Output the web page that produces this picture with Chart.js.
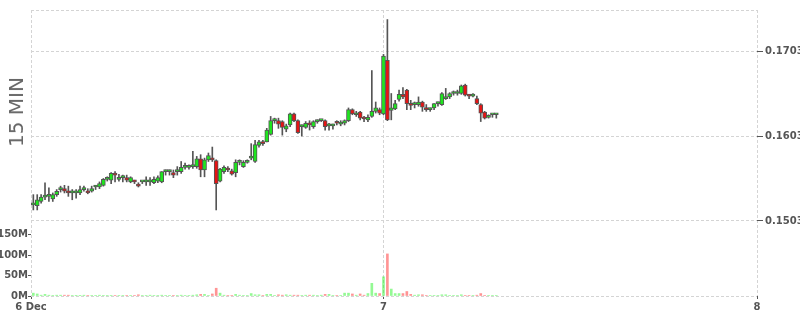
<!DOCTYPE html>
<html>
<head>
<meta charset="utf-8">
<script src="https://cdn.jsdelivr.net/npm/chart.js@4.4.1/dist/chart.umd.min.js"></script>
<style>
    html, body { margin: 0; padding: 0; background: #fff; }
    #wrap { position: relative; width: 800px; height: 315px; }
    #candle_Chart { display: block; }
    #side_label {
        position: absolute; left: 16px; top: 112px;
        transform: translate(-50%, -50%) rotate(-90deg);
        font: 20px "DejaVu Sans", sans-serif; color: #666; white-space: nowrap;
    }
</style>
</head>
<body>
<div id="wrap">
    <canvas id="candle_Chart" width="800" height="315"></canvas>
    <div id="side_label">15 MIN</div>
</div>
<script>
// 15분 봉 데이터 (6 Dec 01:30 부터)
const firstCandleHour = 1.5;
const candleStepHour = 0.25;

const openPrices = [
    0.1522, 0.1521, 0.1526, 0.1531, 0.1532, 0.1529, 0.1534, 0.1540, 0.1541, 0.1538,
    0.1536, 0.1536, 0.1536, 0.1540, 0.1538, 0.1538, 0.1543, 0.1543, 0.1545, 0.1552,
    0.1551, 0.1559, 0.1552, 0.1554, 0.1554, 0.1549, 0.1549, 0.1546, 0.1549, 0.1549,
    0.1549, 0.1548, 0.1550, 0.1549, 0.1561, 0.1561, 0.1560, 0.1561, 0.1561, 0.1566,
    0.1566, 0.1567, 0.1567, 0.1576, 0.1563, 0.1575, 0.1575, 0.1574, 0.1550, 0.1561,
    0.1563, 0.1562, 0.1560, 0.1572, 0.1567, 0.1572, 0.1577, 0.1573, 0.1592, 0.1596,
    0.1596, 0.1605, 0.1621, 0.1621, 0.1620, 0.1611, 0.1616, 0.1629, 0.1621, 0.1614,
    0.1613, 0.1618, 0.1614, 0.1620, 0.1621, 0.1621, 0.1615, 0.1615, 0.1619, 0.1617,
    0.1618, 0.1621, 0.1634, 0.1628, 0.1631, 0.1623, 0.1622, 0.1626, 0.1632, 0.1634,
    0.1629, 0.1692, 0.1633, 0.1635, 0.1646, 0.1652, 0.1657, 0.1641, 0.1640, 0.1640,
    0.1643, 0.1636, 0.1634, 0.1636, 0.1641, 0.1640, 0.1647, 0.1649, 0.1653, 0.1653,
    0.1653, 0.1663, 0.1650, 0.1650, 0.1647, 0.1640, 0.1631, 0.1625, 0.1628, 0.1628
];
const highPrices = [
    0.1534, 0.1534, 0.1534, 0.1548, 0.1542, 0.1536, 0.1540, 0.1544, 0.1545, 0.1544,
    0.1540, 0.1540, 0.1544, 0.1544, 0.1541, 0.1544, 0.1545, 0.1549, 0.1553, 0.1555,
    0.1560, 0.1561, 0.1558, 0.1557, 0.1557, 0.1555, 0.1551, 0.1548, 0.1550, 0.1555,
    0.1554, 0.1555, 0.1556, 0.1561, 0.1563, 0.1563, 0.1563, 0.1567, 0.1573, 0.1571,
    0.1569, 0.1585, 0.1579, 0.1581, 0.1577, 0.1583, 0.1590, 0.1575, 0.1565, 0.1568,
    0.1567, 0.1564, 0.1575, 0.1575, 0.1574, 0.1575, 0.1594, 0.1598, 0.1598, 0.1598,
    0.1612, 0.1626, 0.1624, 0.1624, 0.1621, 0.1617, 0.1630, 0.1630, 0.1622, 0.1616,
    0.1620, 0.1621, 0.1621, 0.1622, 0.1622, 0.1622, 0.1618, 0.1617, 0.1621, 0.1621,
    0.1622, 0.1636, 0.1635, 0.1632, 0.1632, 0.1626, 0.1628, 0.1680, 0.1643, 0.1636,
    0.1699, 0.1740, 0.1653, 0.1645, 0.1657, 0.1660, 0.1658, 0.1645, 0.1643, 0.1649,
    0.1644, 0.1640, 0.1636, 0.1641, 0.1643, 0.1654, 0.1659, 0.1654, 0.1656, 0.1657,
    0.1663, 0.1664, 0.1652, 0.1653, 0.1650, 0.1641, 0.1632, 0.1628, 0.1629, 0.1629
];
const lowPrices = [
    0.1516, 0.1516, 0.1524, 0.1528, 0.1526, 0.1526, 0.1532, 0.1537, 0.1536, 0.1532,
    0.1528, 0.1530, 0.1534, 0.1538, 0.1535, 0.1537, 0.1540, 0.1541, 0.1544, 0.1550,
    0.1547, 0.1549, 0.1550, 0.1549, 0.1549, 0.1548, 0.1547, 0.1543, 0.1547, 0.1545,
    0.1545, 0.1547, 0.1548, 0.1548, 0.1557, 0.1557, 0.1554, 0.1557, 0.1559, 0.1564,
    0.1564, 0.1565, 0.1565, 0.1555, 0.1555, 0.1573, 0.1573, 0.1516, 0.1549, 0.1559,
    0.1561, 0.1557, 0.1555, 0.1569, 0.1566, 0.1571, 0.1575, 0.1572, 0.1590, 0.1592,
    0.1596, 0.1604, 0.1618, 0.1612, 0.1604, 0.1608, 0.1614, 0.1620, 0.1606, 0.1603,
    0.1612, 0.1610, 0.1612, 0.1618, 0.1620, 0.1610, 0.1610, 0.1611, 0.1616, 0.1615,
    0.1616, 0.1620, 0.1628, 0.1626, 0.1622, 0.1620, 0.1620, 0.1625, 0.1630, 0.1628,
    0.1628, 0.1621, 0.1622, 0.1634, 0.1644, 0.1647, 0.1634, 0.1634, 0.1636, 0.1638,
    0.1632, 0.1632, 0.1632, 0.1634, 0.1638, 0.1639, 0.1646, 0.1647, 0.1651, 0.1651,
    0.1652, 0.1650, 0.1647, 0.1649, 0.1640, 0.1620, 0.1623, 0.1624, 0.1625, 0.1624
];
const closePrices = [
    0.1522, 0.1528, 0.1531, 0.1531, 0.1532, 0.1534, 0.1538, 0.1540, 0.1538, 0.1536,
    0.1536, 0.1536, 0.1540, 0.1540, 0.1536, 0.1541, 0.1543, 0.1547, 0.1552, 0.1552,
    0.1559, 0.1557, 0.1554, 0.1554, 0.1551, 0.1554, 0.1549, 0.1544, 0.1549, 0.1549,
    0.1549, 0.1552, 0.1554, 0.1561, 0.1561, 0.1561, 0.1557, 0.1561, 0.1566, 0.1566,
    0.1566, 0.1567, 0.1576, 0.1563, 0.1575, 0.1580, 0.1575, 0.1547, 0.1564, 0.1566,
    0.1563, 0.1558, 0.1572, 0.1572, 0.1572, 0.1572, 0.1577, 0.1593, 0.1596, 0.1594,
    0.1610, 0.1621, 0.1621, 0.1617, 0.1613, 0.1615, 0.1629, 0.1621, 0.1607, 0.1614,
    0.1618, 0.1616, 0.1620, 0.1620, 0.1621, 0.1614, 0.1615, 0.1615, 0.1618, 0.1619,
    0.1621, 0.1634, 0.1629, 0.1630, 0.1624, 0.1623, 0.1625, 0.1632, 0.1636, 0.1630,
    0.1697, 0.1622, 0.1636, 0.1641, 0.1652, 0.1649, 0.1641, 0.1639, 0.1640, 0.1643,
    0.1637, 0.1634, 0.1634, 0.1641, 0.1641, 0.1653, 0.1649, 0.1653, 0.1653, 0.1653,
    0.1662, 0.1651, 0.1650, 0.1652, 0.1641, 0.1630, 0.1624, 0.1626, 0.1628, 0.1628
];
// 거래량 (백만 단위)
const volumesM = [
    7, 5, 2, 4, 2, 1, 2, 2, 2, 2,
    1, 0.5, 0.5, 2, 1, 1, 1, 2, 1, 1,
    1, 1, 1, 1, 1, 1, 1, 3, 1, 1,
    2, 1, 1, 2, 1, 1, 1, 1, 2, 1,
    1, 2, 3, 4, 4, 1, 5, 19, 7, 2,
    1, 1, 4, 2, 1, 1, 6, 3, 3, 1,
    4, 4, 1, 3, 2, 3, 2, 2, 2, 1,
    2, 2, 2, 1, 2, 4, 4, 1, 1, 1,
    7, 7, 5, 2, 5, 2, 6, 31, 7, 6,
    47, 103, 17, 6, 6, 6, 11, 4, 2, 3,
    3, 1, 1, 1, 1, 3, 3, 1, 1, 1,
    3, 1, 1, 1, 2, 6, 1, 1, 1, 1
];

// 축 눈금
const priceTicks = [0.1503, 0.1603, 0.1703];
const volumeTicksM = [0, 50, 100, 150];
const dayTicks = [1.35, 24, 48];
const dayLabels = ['6 Dec', '7', '8'];

document.addEventListener('DOMContentLoaded', (event) => {
    const GREEN = '#1ee61e';
    const RED = '#e61414';
    const EDGE = '#555';
    const GRID = '#d4d4d4';

    const hours = openPrices.map((v, i) => firstCandleHour + i * candleStepHour);
    const isUp = (i) => {
        if (closePrices[i] !== openPrices[i]) return closePrices[i] > openPrices[i];
        return i === 0 || closePrices[i] >= closePrices[i - 1];
    };

    const wickData = hours.map((h, i) => ({ x: h, y: [lowPrices[i], highPrices[i]] }));
    const bodyData = hours.map((h, i) => ({ x: h, y: [openPrices[i], closePrices[i]] }));
    const volumeData = hours.map((h, i) => ({ x: h, y: volumesM[i] * 1e6 }));

    const priceMin = 0.141476;
    const priceMax = 0.175124;
    const labelFont = { family: 'DejaVu Sans', size: 10, weight: 'bold' };

    const ctx_candle = document.getElementById('candle_Chart').getContext('2d');
    new Chart(ctx_candle, {
        type: 'bar',
        data: {
            datasets: [{
                // 거래량
                data: volumeData,
                yAxisID: 'yv',
                grouped: false,
                barThickness: 2,
                order: 3,
                backgroundColor: volumeData.map((d, i) => isUp(i) ? 'rgba(0, 240, 0, 0.42)' : 'rgba(255, 0, 0, 0.42)'),
                borderWidth: 0
            }, {
                // 꼬리 (고가-저가)
                data: wickData,
                yAxisID: 'y',
                grouped: false,
                barThickness: 1,
                order: 2,
                backgroundColor: EDGE,
                borderWidth: 0
            }, {
                // 몸통 (시가-종가)
                data: bodyData,
                yAxisID: 'y',
                grouped: false,
                barThickness: 4,
                minBarLength: 2,
                order: 1,
                backgroundColor: bodyData.map((d, i) => isUp(i) ? GREEN : RED),
                borderColor: EDGE,
                borderWidth: 1,
                borderSkipped: false
            }]
        },
        options: {
            responsive: false,
            animation: false,
            devicePixelRatio: 1,
            events: [],
            layout: {
                autoPadding: false,
                padding: { top: 10, left: 0, right: 0, bottom: 0 }
            },
            plugins: {
                legend: { display: false },
                tooltip: { enabled: false },
                title: { display: false }
            },
            scales: {
                x: {
                    type: 'linear',
                    offset: false,
                    min: dayTicks[0],
                    max: 48,
                    afterBuildTicks: (scale) => {
                        scale.ticks = dayTicks.map(v => ({ value: v }));
                    },
                    afterFit: (scale) => { scale.height = 19; },
                    border: { display: false, dash: [3, 2] },
                    grid: {
                        offset: false,
                        color: GRID,
                        tickColor: EDGE,
                        tickLength: 3
                    },
                    ticks: {
                        autoSkip: false,
                        maxRotation: 0,
                        padding: 2,
                        color: '#555',
                        font: labelFont,
                        callback: function(value, index, values) {
                            return dayLabels[index];
                        }
                    }
                },
                y: {
                    type: 'linear',
                    position: 'right',
                    min: priceMin,
                    max: priceMax,
                    afterBuildTicks: (scale) => {
                        scale.ticks = [priceMin].concat(priceTicks, [priceMax]).map(v => ({ value: v }));
                    },
                    afterFit: (scale) => { scale.width = 43; },
                    border: { display: false, dash: [3, 2] },
                    grid: {
                        color: GRID,
                        tickLength: 6,
                        tickColor: (c) => (c.index === 0 || c.index === priceTicks.length + 1) ? 'rgba(0,0,0,0)' : EDGE
                    },
                    ticks: {
                        padding: 2,
                        color: '#555',
                        font: labelFont,
                        callback: function(value, index, values) {
                            if (index === 0 || index === priceTicks.length + 1) return '';
                            return value.toFixed(4);
                        }
                    }
                },
                yv: {
                    type: 'linear',
                    position: 'left',
                    min: 0,
                    max: 700e6,
                    afterBuildTicks: (scale) => {
                        scale.ticks = volumeTicksM.map(v => ({ value: v * 1e6 }));
                    },
                    afterFit: (scale) => { scale.width = 31; },
                    border: { display: false },
                    grid: {
                        drawOnChartArea: false,
                        tickColor: EDGE,
                        tickLength: 3
                    },
                    ticks: {
                        padding: 0,
                        color: '#555',
                        font: labelFont,
                        callback: function(value, index, values) {
                            return Math.round(value / 1e6) + 'M';
                        }
                    }
                }
            }
        }
    });
});
</script>
</body>
</html>
